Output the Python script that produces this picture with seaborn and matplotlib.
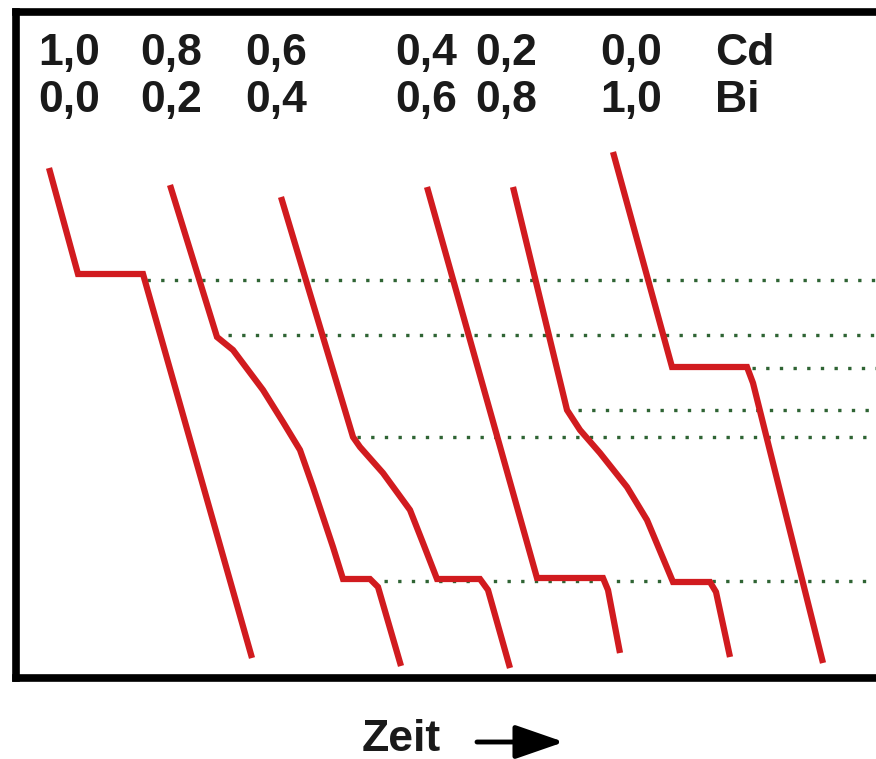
import matplotlib
matplotlib.use("Agg")
import matplotlib.pyplot as plt
import numpy as np
import pandas as pd
import seaborn as sns

# ---- data (time in arbitrary units, temperature in arbitrary units) ----
cd_fraction = ["1,0", "0,8", "0,6", "0,4", "0,2", "0,0"]
bi_fraction = ["0,0", "0,2", "0,4", "0,6", "0,8", "1,0"]
element_top = "Cd"
element_bottom = "Bi"

time_cd10 = [49, 78, 143, 252]
temp_cd10 = [591, 485, 485, 101]

time_cd08 = [170, 217, 233, 263, 283, 300, 313, 333, 343, 370, 378, 401]
temp_cd08 = [574, 422, 409, 369, 337, 309, 272, 212, 180, 180, 172, 93]

time_cd06 = [281, 353, 360, 383, 410, 423, 437, 480, 488, 510]
temp_cd06 = [562, 322, 312, 286, 249, 216, 180, 180, 169, 91]

time_cd04 = [427, 537, 603, 608, 620]
temp_cd04 = [572, 181, 181, 169, 106]

time_cd02 = [513, 567, 580, 600, 627, 647, 673, 710, 716, 730]
temp_cd02 = [572, 349, 329, 306, 272, 239, 177, 177, 167, 102]

time_cd00 = [613, 672, 747, 753, 823]
temp_cd00 = [607, 392, 392, 376, 96]

arrest_temp = [479, 424, 391, 349, 322, 178]
arrest_start = [147, 228, 752, 578, 357, 384]

# ---- layout ----
label_x = [38, 140, 245, 395, 475, 600]
element_x = 715

curves = [
    (cd_fraction[0], time_cd10, temp_cd10),
    (cd_fraction[1], time_cd08, temp_cd08),
    (cd_fraction[2], time_cd06, temp_cd06),
    (cd_fraction[3], time_cd04, temp_cd04),
    (cd_fraction[4], time_cd02, temp_cd02),
    (cd_fraction[5], time_cd00, temp_cd00),
]
rows = []
for name, t, T in curves:
    for i, (a, b) in enumerate(zip(t, T)):
        rows.append({"curve": name, "order": i, "Zeit": a, "Temperatur": b})
df = pd.DataFrame(rows)

sns.set_theme(style="white")
plt.rcParams["font.family"] = ["Liberation Sans", "DejaVu Sans"]

W, H = 876, 759
fig = plt.figure(figsize=(W / 100, H / 100), dpi=100)
fig.patch.set_facecolor("white")

x_left, x_right = 16, 895
y_top_px, y_bot_px = 11.5, 678
ax = fig.add_axes([x_left / W, 1 - y_bot_px / H,
                   (x_right - x_left) / W, (y_bot_px - y_top_px) / H])
ax.set_xlim(x_left, x_right)
ax.set_ylim(H - y_bot_px, H - y_top_px)

green = "#2f6434"
red = "#d11b1f"

for T0, x0 in zip(arrest_temp, arrest_start):
    ax.hlines(T0, x0, x_right, colors=green, linewidth=2.4,
              linestyles=(0, (1, 3.1)), zorder=1)

sns.lineplot(data=df, x="Zeit", y="Temperatur", units="curve",
             estimator=None, sort=False, color=red, linewidth=4.5,
             ax=ax, zorder=2, legend=False)
for ln in ax.lines:
    ln.set_solid_joinstyle("miter")
    ln.set_solid_capstyle("butt")

ax.set_xticks([])
ax.set_yticks([])
ax.set_xlabel("")
ax.set_ylabel("")
for s in ax.spines.values():
    s.set_visible(True)
    s.set_color("black")
    s.set_linewidth(5.5)

row1_T = H - 65
row2_T = H - 112
fs = 32
for x, a, b in zip(label_x, cd_fraction, bi_fraction):
    ax.text(x, row1_T, a, fontsize=fs, fontweight="bold", color="#1a1a1a",
            ha="left", va="baseline")
    ax.text(x, row2_T, b, fontsize=fs, fontweight="bold", color="#1a1a1a",
            ha="left", va="baseline")
ax.text(element_x, row1_T, element_top, fontsize=fs, fontweight="bold",
        color="#1a1a1a", ha="left", va="baseline")
ax.text(element_x, row2_T, element_bottom, fontsize=fs, fontweight="bold",
        color="#1a1a1a", ha="left", va="baseline")

fig.text(362 / W, 1 - 751 / H, "Zeit", fontsize=32, fontweight="bold",
         color="#1a1a1a", ha="left", va="baseline")
ax.annotate("", xy=(564, H - 742), xytext=(477, H - 742),
            xycoords="figure pixels", textcoords="figure pixels",
            arrowprops=dict(arrowstyle="-|>,head_length=0.75,head_width=0.26",
                            lw=3.5, color="black", mutation_scale=40,
                            shrinkA=0, shrinkB=0),
            annotation_clip=False)

fig.savefig("out.png", dpi=100, facecolor="white")
